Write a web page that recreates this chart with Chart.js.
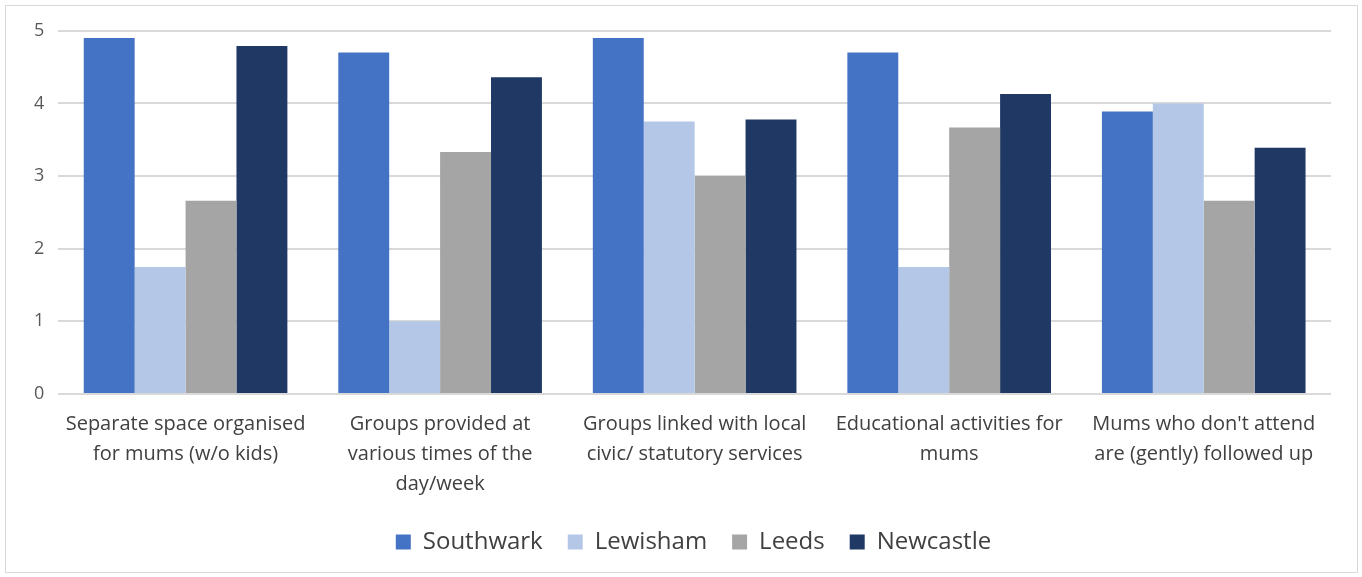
<!DOCTYPE html>
<html>
<head>
<meta charset="utf-8">
<script src="https://cdn.jsdelivr.net/npm/chart.js@4/dist/chart.umd.min.js"></script>
<style>
  body { margin: 0; background: #fff; }
  #box {
    position: absolute; left: 5px; top: 5px;
    width: 1351px; height: 566px;
    border: 1px solid #d9d9d9; background: #fff;
  }
</style>
</head>
<body>
<div id="box"><canvas id="chart" width="1351" height="566"></canvas></div>
<script>
// categories (already split into lines as in the picture)
const categories = [
  ["Separate space organised", "for mums (w/o kids)"],
  ["Groups provided at", "various times of the", "day/week"],
  ["Groups linked with local", "civic/ statutory services"],
  ["Educational activities for", "mums"],
  ["Mums who don't attend", "are (gently) followed up"]
];

// series values
const southwark = [4.9, 4.7, 4.9, 4.7, 3.89];
const lewisham  = [1.75, 1.0, 3.75, 1.75, 4.0];
const leeds     = [2.66, 3.33, 3.0, 3.67, 2.66];
const newcastle = [4.79, 4.36, 3.78, 4.13, 3.39];

const yTicks = [0, 1, 2, 3, 4, 5];

// the legend in the original sits a little right of centre
const nudgeLegend = {
  id: "nudgeLegend",
  afterLayout(chart) {
    chart.legend.left += 18;
    chart.legend.right += 18;
  }
};

const ctx = document.getElementById("chart").getContext("2d");

new Chart(ctx, {
  type: "bar",
  data: {
    labels: categories,
    datasets: [
      { label: "Southwark", data: southwark, backgroundColor: "#4472c4" },
      { label: "Lewisham",  data: lewisham,  backgroundColor: "#b4c7e7" },
      { label: "Leeds",     data: leeds,     backgroundColor: "#a5a5a5" },
      { label: "Newcastle", data: newcastle, backgroundColor: "#203864" }
    ]
  },
  plugins: [nudgeLegend],
  options: {
    responsive: false,
    animation: false,
    layout: { padding: { left: 14, right: 26, top: 17, bottom: 8 } },
    datasets: {
      bar: { categoryPercentage: 0.8, barPercentage: 1.0 }
    },
    plugins: {
      tooltip: { enabled: false },
      legend: {
        position: "bottom",
        labels: {
          font: { family: "Open Sans", size: 24 },
          color: "#404040",
          boxWidth: 15,
          boxHeight: 15,
          padding: 25
        }
      }
    },
    scales: {
      x: {
        grid: { display: false },
        border: { display: false },
        ticks: {
          font: { family: "Open Sans", size: 20, lineHeight: 1.5 },
          color: "#404040",
          maxRotation: 0,
          autoSkip: false,
          padding: 7
        },
        afterFit: (scale) => { scale.height = 111; }
      },
      y: {
        min: 0,
        max: 5,
        afterBuildTicks: (scale) => { scale.ticks = yTicks.map(v => ({ value: v })); },
        grid: { color: "#d9d9d9", lineWidth: 2, drawTicks: false },
        border: { display: false },
        ticks: {
          font: { family: "Open Sans", size: 18 },
          color: "#595959",
          padding: 14
        }
      }
    }
  }
});
</script>
</body>
</html>
